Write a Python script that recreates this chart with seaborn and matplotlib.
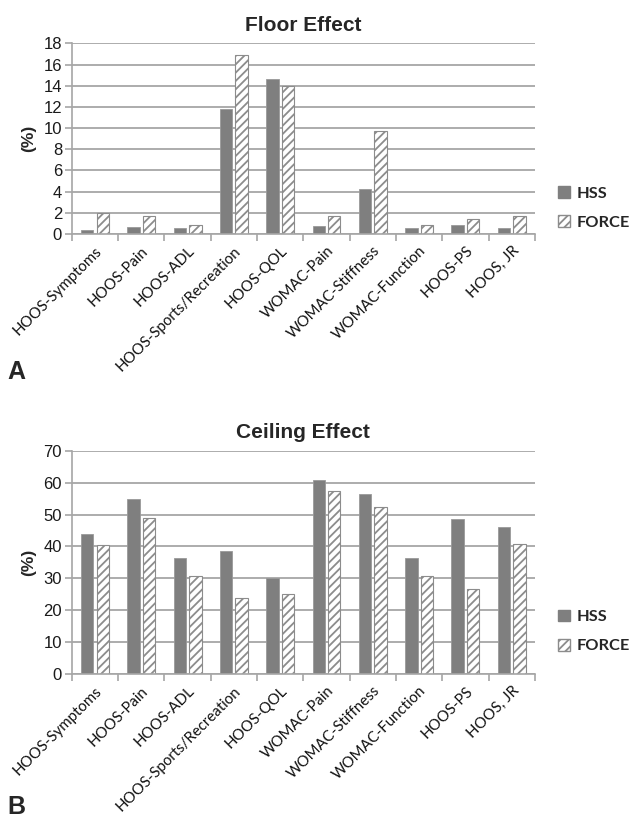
import matplotlib
matplotlib.use("Agg")
import matplotlib.pyplot as plt
import matplotlib.patches as mpatches
import seaborn as sns
import pandas as pd
import numpy as np

categories = ["HOOS-Symptoms", "HOOS-Pain", "HOOS-ADL", "HOOS-Sports/Recreation",
              "HOOS-QOL", "WOMAC-Pain", "WOMAC-Stiffness", "WOMAC-Function",
              "HOOS-PS", "HOOS, JR"]
groups = ["HSS", "FORCE"]
floor_hss = [0.4, 0.7, 0.6, 11.8, 14.6, 0.75, 4.2, 0.6, 0.8, 0.6]
floor_force = [1.95, 1.65, 0.85, 16.9, 14.0, 1.65, 9.7, 0.85, 1.4, 1.65]
ceil_hss = [43.8, 54.8, 36.3, 38.6, 30.2, 60.9, 56.3, 36.3, 48.5, 46.1]
ceil_force = [40.3, 48.9, 30.8, 23.7, 25.2, 57.3, 52.4, 30.8, 26.6, 40.8]
floor_ticks = list(range(0, 19, 2))
ceil_ticks = list(range(0, 71, 10))

sns.set_theme(style="white")
plt.rcParams['font.family'] = ['Liberation Sans', 'DejaVu Sans']
plt.rcParams['hatch.linewidth'] = 1.3
plt.rcParams['hatch.color'] = "#8c8c8c"

HSS_C = "#7f7f7f"
GRID_C = "#a6a6a6"
CAL = ["Lato", "DejaVu Sans"]

fig = plt.figure(figsize=(6.30, 8.18), dpi=100)
ax1 = fig.add_axes([0.114, 0.714, 0.735, 0.233])
ax2 = fig.add_axes([0.114, 0.176, 0.735, 0.273])


def draw(ax, hss, force, ticks, title, ylim):
    df = pd.DataFrame({
        "cat": categories * 2,
        "grp": [groups[0]] * len(categories) + [groups[1]] * len(categories),
        "val": list(hss) + list(force),
    })
    sns.barplot(data=df, x="cat", y="val", hue="grp", order=categories,
                hue_order=groups, palette=[HSS_C, "white"], width=0.67,
                gap=0.2, ax=ax, legend=False, saturation=1)
    n = len(categories)
    for i, p in enumerate(ax.patches):
        if i < n:
            p.set_facecolor(HSS_C)
            p.set_edgecolor("#9a9a9a")
            p.set_linewidth(0.6)
        else:
            p.set_facecolor("white")
            p.set_edgecolor("#8c8c8c")
            p.set_hatch("////")
            p.set_linewidth(0.8)
    ax.set_ylim(*ylim)
    ax.set_xlim(-0.5, n - 0.5)
    ax.set_yticks(ticks)
    ax.set_yticklabels([str(t) for t in ticks], fontsize=12, color="#1a1a1a")
    ax.yaxis.grid(True, color=GRID_C, linewidth=1.3)
    ax.set_axisbelow(True)
    for s in ["top", "right"]:
        ax.spines[s].set_visible(False)
    for s in ["left", "bottom"]:
        ax.spines[s].set_color(GRID_C)
        ax.spines[s].set_linewidth(1.2)
    ax.tick_params(axis="y", length=5, color=GRID_C, width=1.2, pad=2, left=True)
    ax.set_xticks(range(n))
    ax.set_xticklabels(categories, rotation=45, ha="right", rotation_mode="anchor",
                       fontsize=10.8, family=CAL, color="#111111")
    ax.tick_params(axis="x", length=0, pad=7)
    ax.set_xticks(np.arange(-0.5, n, 1.0), minor=True)
    ax.tick_params(axis="x", which="minor", length=5, color=GRID_C, width=1.2, bottom=True)
    ax.set_xlabel("")
    ax.set_ylabel("(%)", fontsize=12.5, fontweight="bold", labelpad=5)
    ax.set_title(title, fontsize=15, fontweight="bold", pad=9)


draw(ax1, floor_hss, floor_force, floor_ticks, "Floor Effect", (0, 18))
draw(ax2, ceil_hss, ceil_force, ceil_ticks, "Ceiling Effect", (0, 70))

for ax, ys in [(ax1, (192, 224)), (ax2, (615, 648))]:
    h1 = mpatches.Patch(facecolor=HSS_C, edgecolor=HSS_C, label="HSS")
    h2 = mpatches.Patch(facecolor="white", edgecolor="#8c8c8c", hatch="////", label="FORCE")
    yc = 1 - (ys[0] + ys[1]) / 2 / 818
    fig.legend(handles=[h1, h2], loc="center left", bbox_to_anchor=(0.886, yc),
               frameon=False, handlelength=0.73, handleheight=0.73, handletextpad=0.37,
               labelspacing=0.9, borderaxespad=0, borderpad=0,
               prop={"family": CAL, "weight": "bold", "size": 11.8})

fig.text(0.012, 1 - 372 / 818, "A", fontsize=18, fontweight="bold", va="center")
fig.text(0.012, 1 - 807 / 818, "B", fontsize=18, fontweight="bold", va="center")

fig.savefig("out.png", dpi=100, facecolor="white")
